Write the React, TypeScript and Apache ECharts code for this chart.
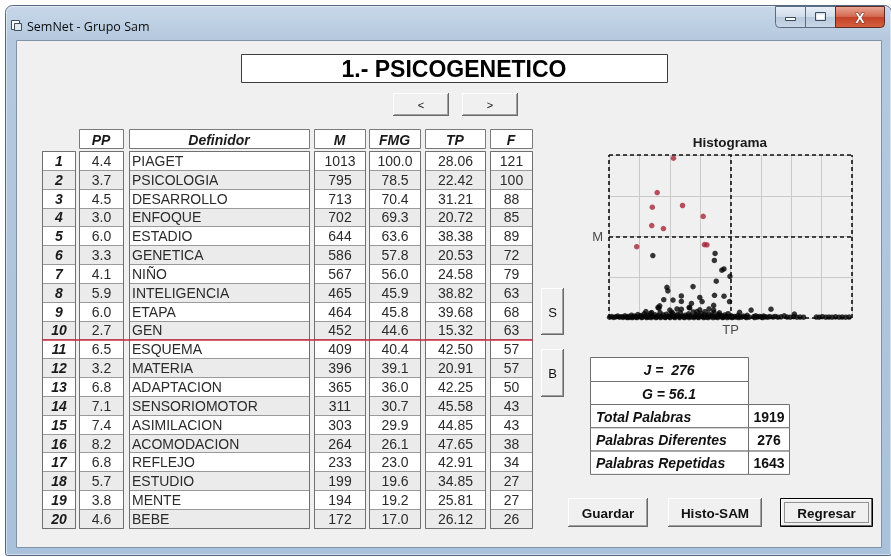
import React, { useEffect, useRef } from 'react';
import * as echarts from 'echarts';

// ---------- data ----------
const windowTitle = 'SemNet - Grupo Sam';
const setTitle = '1.- PSICOGENETICO';
const columnHeaders = ['PP', 'Definidor', 'M', 'FMG', 'TP', 'F'];
const ppValues = [4.4, 3.7, 4.5, 3.0, 6.0, 3.3, 4.1, 5.9, 6.0, 2.7, 6.5, 3.2, 6.8, 7.1, 7.4, 8.2, 6.8, 5.7, 3.8, 4.6];
const definidores = ['PIAGET', 'PSICOLOGIA', 'DESARROLLO', 'ENFOQUE', 'ESTADIO', 'GENETICA', 'NIÑO', 'INTELIGENCIA', 'ETAPA', 'GEN', 'ESQUEMA', 'MATERIA', 'ADAPTACION', 'SENSORIOMOTOR', 'ASIMILACION', 'ACOMODACION', 'REFLEJO', 'ESTUDIO', 'MENTE', 'BEBE'];
const mValues = [1013, 795, 713, 702, 644, 586, 567, 465, 464, 452, 409, 396, 365, 311, 303, 264, 233, 199, 194, 172];
const fmgValues = [100.0, 78.5, 70.4, 69.3, 63.6, 57.8, 56.0, 45.9, 45.8, 44.6, 40.4, 39.1, 36.0, 30.7, 29.9, 26.1, 23.0, 19.6, 19.2, 17.0];
const tpValues = [28.06, 22.42, 31.21, 20.72, 38.38, 20.53, 24.58, 38.82, 39.68, 15.32, 42.5, 20.91, 42.25, 45.58, 44.85, 47.65, 42.91, 34.85, 25.81, 26.12];
const fValues = [121, 100, 88, 85, 89, 72, 79, 63, 68, 63, 57, 57, 50, 43, 43, 38, 34, 27, 27, 26];
const samSize = 10;
const jValue = 276;
const gValue = 56.1;
const statLabels = ['Total Palabras', 'Palabras Diferentes', 'Palabras Repetidas'];
const statValues = [1919, 276, 1643];
const bottomButtons = ['Guardar', 'Histo-SAM', 'Regresar'];

// remaining words (TP, M)
const midWords: [number, number][] = [
  [42.3, 144], [45.6, 138], [24.7, 116], [27.9, 114], [30.8, 140], [30.8, 105], [37.2, 130], [38.0, 104],
  [34.3, 92], [47.5, 104], [42.0, 80], [29.3, 57], [30.8, 56], [33.5, 67], [33.7, 64], [40.4, 57],
  [22.7, 67], [23.3, 77], [23.0, 62], [18.5, 41], [36.2, 41], [61.9, 56], [55.0, 50], [42.0, 50],
  [70.0, 25], [51.0, 36], [26.8, 50], [37.2, 52], [20.5, 34], [44.0, 33], [27.5, 37], [39.0, 40],
];
const lowWords: [number, number][] = [
  [5.9, 5], [6.6, 9], [7.3, 4], [8.0, 7], [8.7, 12], [9.3, 5], [10.0, 8], [10.6, 4], [11.2, 14], [11.8, 6],
  [12.4, 10], [12.9, 4], [13.5, 18], [14.0, 7], [14.6, 12], [15.1, 5], [15.7, 22], [16.2, 9], [16.8, 15], [17.3, 6],
  [17.9, 26], [18.4, 10], [19.0, 17], [19.5, 5], [20.1, 30], [20.6, 12], [21.2, 8], [21.7, 20], [22.3, 6], [22.8, 14],
  [23.4, 34], [23.9, 9], [24.5, 19], [25.0, 5], [25.6, 24], [26.1, 11], [26.7, 7], [27.2, 16], [27.8, 28], [28.3, 6],
  [28.9, 13], [29.4, 21], [30.0, 8], [30.5, 32], [31.1, 12], [31.6, 5], [32.2, 18], [32.7, 9], [33.3, 26], [33.8, 14],
  [34.4, 7], [34.9, 38], [35.5, 11], [36.0, 20], [36.6, 6], [37.1, 15], [37.7, 28], [38.2, 9], [38.8, 19], [39.3, 5],
  [39.9, 13], [40.4, 24], [41.0, 8], [41.5, 17], [42.1, 34], [42.6, 6], [43.2, 12], [43.7, 22], [44.3, 9], [44.8, 15],
  [45.4, 5], [45.9, 19], [46.5, 10], [47.0, 27], [47.6, 7], [48.1, 14], [48.7, 5], [49.2, 10], [49.8, 6], [50.4, 15],
  [51.0, 8], [51.7, 5], [52.3, 12], [53.0, 7], [53.6, 17], [54.3, 5], [55.9, 9], [56.6, 14], [57.2, 6], [57.9, 10],
  [58.6, 5], [59.3, 12], [60.0, 7], [60.8, 5], [61.5, 9], [62.6, 6], [63.4, 10], [64.3, 5], [65.4, 7], [66.5, 14],
  [67.5, 6], [68.6, 5], [69.8, 8], [70.9, 5], [72.0, 6], [73.2, 5], [77.6, 6], [78.6, 5], [79.7, 8], [80.9, 5],
  [82.0, 6], [83.1, 5], [84.3, 7], [85.5, 5], [86.6, 6], [87.8, 5], [89.0, 6],
  [12.1, 3], [13.8, 3], [15.4, 3], [17.0, 3], [18.7, 3], [20.3, 3], [22.0, 3], [23.6, 3], [25.3, 3], [26.9, 3],
  [28.6, 3], [30.2, 3], [31.9, 3], [33.5, 3], [35.2, 3], [36.8, 3], [38.5, 3], [40.1, 3], [41.8, 3], [43.4, 3],
  [45.1, 3], [46.7, 3], [48.4, 3], [50.7, 3], [53.4, 3], [56.2, 3], [59.0, 3],
];
const tpAxisRange = [5.7, 90];
const mAxisRange = [0, 1033];

// ---------- helpers ----------
const SANS = '"Liberation Sans", Arial, sans-serif';
const font = (size: number, weight = 'normal', style = 'normal', family = SANS) =>
  `${style} ${weight} ${size}px ${family}`;

const rect = (x: number, y: number, w: number, h: number, fill: any, stroke: string | null = null, lw = 1, r: any = 0) => ({
  type: 'rect', silent: true,
  shape: { x, y, width: w, height: h, r },
  style: { fill, stroke, lineWidth: lw },
});
const seg = (x1: number, y1: number, x2: number, y2: number, stroke: string, lw = 1) => ({
  type: 'line', silent: true,
  shape: { x1, y1, x2, y2 },
  style: { stroke, lineWidth: lw },
});
const txt = (t: string, x: number, y: number, f: string, fill = '#000', align = 'center', va = 'middle') => ({
  type: 'text', silent: true,
  style: { text: t, x, y, font: f, fill, align, verticalAlign: va },
});

const button3D = (x: number, y: number, w: number, h: number, label: string, f: string, isDefault = false) => {
  const ch: any[] = [];
  ch.push(rect(x, y, w, h, '#f0f0f0'));
  if (isDefault) {
    ch.push(rect(x + 0.5, y + 0.5, w - 1, h - 1, null, '#000', 1));
    ch.push(seg(x + 1.5, y + 1.5, x + w - 2, y + 1.5, '#ffffff'));
    ch.push(seg(x + 1.5, y + 1.5, x + 1.5, y + h - 2, '#ffffff'));
    ch.push(seg(x + 1, y + h - 1.5, x + w - 1, y + h - 1.5, '#696969'));
    ch.push(seg(x + w - 1.5, y + 1, x + w - 1.5, y + h - 1, '#696969'));
    const focus = rect(x + 4.5, y + 4.5, w - 9, h - 9, null, '#333', 1) as any;
    focus.style.lineDash = [1, 1];
    ch.push(focus);
  } else {
    ch.push(seg(x + 0.5, y + 0.5, x + w - 1, y + 0.5, '#ffffff'));
    ch.push(seg(x + 0.5, y + 0.5, x + 0.5, y + h - 1, '#ffffff'));
    ch.push(seg(x, y + h - 0.5, x + w, y + h - 0.5, '#696969'));
    ch.push(seg(x + w - 0.5, y, x + w - 0.5, y + h, '#696969'));
    ch.push(seg(x + 1, y + h - 1.5, x + w - 1, y + h - 1.5, '#a0a0a0'));
    ch.push(seg(x + w - 1.5, y + 1, x + w - 1.5, y + h - 1, '#a0a0a0'));
  }
  ch.push(txt(label, x + w / 2, y + h / 2 + 0.5, f, '#111'));
  return { type: 'group', silent: true, children: ch };
};

function buildGraphic() {
  const els: any[] = [];
  // page and window frame
  els.push(rect(0, 0, 891, 557, '#ffffff'));
  els.push(rect(5.5, 5.5, 886, 550, new echarts.graphic.LinearGradient(0, 0, 0, 1, [
    { offset: 0, color: '#c8d8e9' }, { offset: 0.06, color: '#b5c9de' }, { offset: 1, color: '#a9c1da' },
  ]), '#56687e', 1, [7, 7, 2, 2]));
  els.push(rect(6.5, 6.5, 884, 548, null, 'rgba(255,255,255,0.45)', 1, [6, 6, 1, 1]));
  // client area
  els.push(rect(16.5, 40.5, 865, 507, '#f0f0f0', '#7f93aa', 1));
  // title bar icon + caption
  els.push(rect(11.5, 20.5, 8, 9, '#ffffff', '#3f4e60', 1));
  els.push(rect(14.5, 23.5, 7, 7, '#dfe7ef', '#3f4e60', 1));
  els.push(txt(windowTitle, 27, 26, font(12.5, 'normal', 'normal', '"Open Sans", "Noto Sans", sans-serif'), '#0b0b0b', 'left'));
  // caption buttons
  const capGrad = () => new echarts.graphic.LinearGradient(0, 0, 0, 1, [
    { offset: 0, color: '#e8eff7' }, { offset: 0.5, color: '#cfdbe8' }, { offset: 0.51, color: '#b9cadd' }, { offset: 1, color: '#c9d7e6' },
  ]);
  els.push(rect(775.5, 6.5, 30, 21, capGrad(), '#5a6c82', 1, [0, 0, 0, 4]));
  els.push(rect(785.5, 17.5, 10, 3, '#ffffff', '#3c4b5c', 1));
  els.push(rect(805.5, 6.5, 30, 21, capGrad(), '#5a6c82', 1, 0));
  els.push(rect(815.5, 12.5, 10, 8, null, '#3c4b5c', 1));
  els.push(rect(816.5, 14.5, 8, 5, '#ffffff', null));
  els.push(rect(835.5, 6.5, 49, 21, new echarts.graphic.LinearGradient(0, 0, 0, 1, [
    { offset: 0, color: '#e9a797' }, { offset: 0.5, color: '#d2654c' }, { offset: 0.51, color: '#c2412a' }, { offset: 1, color: '#d7613f' },
  ]), '#5f2a22', 1, [0, 0, 4, 0]));
  els.push({ type: 'text', silent: true, style: { text: 'X', x: 860, y: 17.5, font: font(14, 'bold'), fill: '#ffffff', stroke: '#6d2b20', lineWidth: 1, align: 'center', verticalAlign: 'middle' } });

  // set title box
  els.push(rect(241.5, 54.5, 426, 28, '#ffffff', '#3c3c3c', 1));
  els.push(txt(setTitle, 454, 69, font(23, 'bold'), '#000'));
  // navigation buttons
  els.push(button3D(393, 93, 56, 23, '<', font(11), false));
  els.push(button3D(462, 93, 56, 23, '>', font(11), false));

  // table
  const cols: [number, number][] = [[42, 75], [79, 123], [129, 309], [314, 365], [369, 420], [425, 485], [490, 532]];
  const rowTop = 151;
  const rowH = 18.84;
  for (let c = 1; c < cols.length; c++) {
    const [x0, x1] = cols[c];
    els.push(rect(x0 + 0.5, 129.5, x1 - x0, 19, '#ffffff', '#7a7a7a', 1));
    els.push(txt(columnHeaders[c - 1], (x0 + x1) / 2, 139.5, font(14, 'bold', 'italic'), '#1a1a1a'));
  }
  const cellText = (c: number, i: number): string => {
    switch (c) {
      case 0: return String(i + 1);
      case 1: return ppValues[i].toFixed(1);
      case 2: return definidores[i];
      case 3: return String(mValues[i]);
      case 4: return fmgValues[i].toFixed(1);
      case 5: return tpValues[i].toFixed(2);
      default: return String(fValues[i]);
    }
  };
  for (let c = 0; c < cols.length; c++) {
    const [x0, x1] = cols[c];
    const w = x1 - x0;
    for (let i = 0; i < definidores.length; i++) {
      const y = rowTop + i * rowH;
      els.push(rect(x0 + 0.5, Math.round(y) + 0.5, w, Math.round(y + rowH) - Math.round(y), i % 2 === 0 ? '#ffffff' : '#ebebeb', '#9a9a9a', 1));
      const t = cellText(c, i);
      const cy = y + rowH / 2 + 0.5;
      if (c === 2) els.push(txt(t, x0 + 3, cy, font(14), '#2b2b2b', 'left'));
      else if (c === 0) els.push(txt(t, (x0 + x1) / 2 + 0.5, cy, font(14, 'bold', 'italic'), '#1a1a1a'));
      else els.push(txt(t, (x0 + x1) / 2 + 0.5, cy, font(14), '#2b2b2b'));
    }
    els.push(rect(x0 + 0.5, rowTop + 0.5, w, Math.round(definidores.length * rowH), null, '#707070', 1));
  }
  // SAM cut line
  const cutY = Math.round(rowTop + samSize * rowH) + 1;
  els.push({ type: 'rect', silent: true, z: 5, shape: { x: 42, y: cutY - 0.75, width: 491, height: 1.5 }, style: { fill: '#c8283e' } });

  // S / B buttons
  els.push(button3D(541, 288, 23, 47, 'S', font(13)));
  els.push(button3D(541, 349, 23, 48, 'B', font(13)));

  // histogram panel
  els.push({ ...rect(591.5, 130.5, 277, 207, '#ffffff', '#3a3a3a', 1), z: -1 });
  els.push(txt('Histograma', 730, 142.5, font(13.5, 'bold'), '#1a1a1a'));

  // stats
  els.push(rect(590.5, 357.5, 158, 24, '#ffffff', '#6f6f6f', 1));
  els.push(txt(`J =  ${jValue}`, 669, 370, font(14, 'bold', 'italic'), '#111'));
  els.push(rect(590.5, 381.5, 158, 23, '#ffffff', '#6f6f6f', 1));
  els.push(txt(`G = ${gValue}`, 669, 393.5, font(14, 'bold', 'italic'), '#111'));
  for (let k = 0; k < statLabels.length; k++) {
    const y = 404.5 + k * 23.3;
    els.push(rect(590.5, y, 158, 23.3, '#ffffff', '#6f6f6f', 1));
    els.push(rect(748.5, y, 41, 23.3, '#ffffff', '#6f6f6f', 1));
    els.push(txt(statLabels[k], 596, y + 12, font(14, 'bold', 'italic'), '#111', 'left'));
    els.push(txt(String(statValues[k]), 769, y + 12, font(14, 'bold'), '#111'));
  }

  // bottom buttons
  els.push(button3D(568, 498, 80, 29, bottomButtons[0], font(13.5, 'bold')));
  els.push(button3D(668, 498, 94, 29, bottomButtons[1], font(13.5, 'bold')));
  els.push(button3D(780, 498, 93, 29, bottomButtons[2], font(13.5, 'bold'), true));
  return els;
}

export default function App() {
  const ref = useRef<HTMLDivElement>(null);
  useEffect(() => {
    if (!ref.current) return;
    const chart = echarts.init(ref.current, null, { renderer: 'svg', width: 891, height: 557 });
    const redData = tpValues.slice(0, samSize).map((tp, i) => [tp, mValues[i]]);
    const blackData = [
      ...tpValues.slice(samSize).map((tp, i) => [tp, mValues[samSize + i]]),
      ...midWords,
      ...lowWords,
    ];
    const gridAxisCommon = {
      axisLine: { show: false },
      axisTick: { show: false },
      axisLabel: { show: false },
      splitLine: { show: true, lineStyle: { color: '#c9c9c9', width: 1 } },
      nameTextStyle: { color: '#4a4a4a', fontSize: 13, fontFamily: SANS },
      z: 3,
    };
    chart.setOption({
      animation: false,
      backgroundColor: 'transparent',
      graphic: { elements: buildGraphic() },
      grid: { left: 609, top: 155, width: 243, height: 163, containLabel: false },
      xAxis: [
        { type: 'value', min: tpAxisRange[0], max: tpAxisRange[1], show: false, position: 'top' },
        { type: 'value', min: 0, max: 8, interval: 1, position: 'bottom', name: 'TP', nameLocation: 'middle', nameGap: 5, ...gridAxisCommon },
      ],
      yAxis: [
        { type: 'value', min: mAxisRange[0], max: mAxisRange[1], show: false, position: 'right' },
        { type: 'value', min: 0, max: 4, interval: 1, position: 'left', name: 'M', nameLocation: 'middle', nameGap: 6, nameRotate: 0, ...gridAxisCommon },
      ],
      series: [
        {
          type: 'line', xAxisIndex: 1, yAxisIndex: 1, data: [], z: 4,
          markLine: {
            silent: true, symbol: ['none', 'none'], label: { show: false },
            lineStyle: { type: [4, 3], color: '#111', width: 1.6 },
            data: [{ xAxis: 0 }, { xAxis: 4 }, { xAxis: 8 }, { yAxis: 0 }, { yAxis: 2 }, { yAxis: 4 }],
          },
        },
        {
          type: 'scatter', name: 'resto', xAxisIndex: 0, yAxisIndex: 0, data: blackData, z: 10,
          symbol: 'circle', symbolSize: 5.5, itemStyle: { color: '#050505' },
        },
        {
          type: 'scatter', name: 'SAM', xAxisIndex: 0, yAxisIndex: 0, data: redData, z: 11,
          symbol: 'circle', symbolSize: 5.5, itemStyle: { color: '#a8263a' },
        },
      ],
    });
    return () => chart.dispose();
  }, []);
  return <div ref={ref} style={{ position: 'fixed', left: 0, top: 0, width: 891, height: 557 }} />;
}
